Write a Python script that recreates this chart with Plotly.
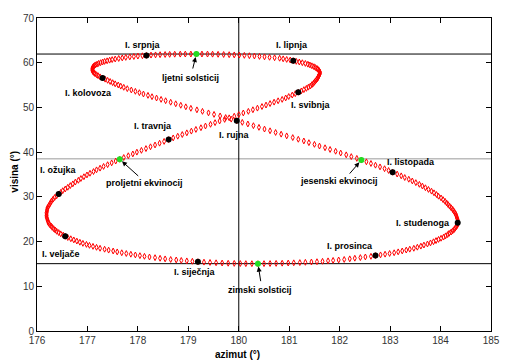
import plotly.graph_objects as go

# noon position of the Sun, one value per day (1 Jan .. 31 Dec)
azimut = [
179.19,179.08,178.97,178.86,178.76, 178.65,178.54,178.44,178.34,178.23,
178.13,178.04,177.95,177.86,177.77, 177.68,177.59,177.51,177.42,177.34,
177.25,177.18,177.11,177.04,176.98, 176.91,176.85,176.79,176.73,176.67,
176.61,176.56,176.52,176.47,176.43, 176.39,176.36,176.33,176.30,176.28,
176.25,176.23,176.22,176.21,176.20, 176.19,176.19,176.19,176.19,176.20,
176.20,176.21,176.23,176.25,176.27, 176.29,176.32,176.35,176.39,176.43,
176.47,176.51,176.56,176.61,176.66, 176.71,176.76,176.82,176.87,176.93,
176.99,177.05,177.12,177.18,177.25, 177.32,177.40,177.48,177.56,177.64,
177.72,177.81,177.90,177.98,178.07, 178.16,178.25,178.34,178.43,178.52,
178.61,178.70,178.79,178.88,178.97, 179.06,179.15,179.25,179.34,179.44,
179.53,179.62,179.72,179.81,179.91, 180.00,180.09,180.19,180.28,180.37,
180.46,180.54,180.62,180.70,180.78, 180.86,180.93,180.99,181.06,181.12,
181.18,181.24,181.29,181.34,181.38, 181.42,181.45,181.48,181.50,181.52,
181.54,181.56,181.57,181.58,181.59, 181.60,181.61,181.61,181.60,181.59,
181.57,181.55,181.52,181.49,181.45, 181.41,181.37,181.32,181.26,181.20,
181.14,181.08,181.02,180.95,180.88, 180.81,180.71,180.61,180.51,180.41,
180.31,180.21,180.11,180.01,179.91, 179.81,179.70,179.59,179.48,179.38,
179.27,179.16,179.05,178.94,178.84, 178.73,178.63,178.54,178.44,178.35,
178.26,178.17,178.09,178.00,177.92, 177.84,177.76,177.69,177.62,177.55,
177.49,177.44,177.39,177.34,177.30, 177.26,177.22,177.19,177.16,177.14,
177.12,177.11,177.10,177.10,177.10, 177.10,177.11,177.13,177.15,177.18,
177.21,177.25,177.30,177.35,177.40, 177.45,177.50,177.55,177.61,177.66,
177.72,177.79,177.87,177.95,178.03, 178.11,178.20,178.28,178.37,178.46,
178.55,178.65,178.75,178.85,178.95, 179.05,179.17,179.28,179.40,179.51,
179.63,179.74,179.85,179.96,180.07, 180.18,180.29,180.40,180.51,180.62,
180.73,180.84,180.95,181.07,181.18, 181.29,181.39,181.50,181.60,181.71,
181.81,181.92,182.02,182.13,182.23, 182.34,182.43,182.53,182.62,182.71,
182.80,182.89,182.97,183.05,183.14, 183.22,183.29,183.37,183.44,183.51,
183.58,183.64,183.70,183.76,183.82, 183.87,183.92,183.96,184.01,184.05,
184.09,184.12,184.15,184.18,184.21, 184.24,184.26,184.28,184.30,184.31,
184.32,184.33,184.34,184.34,184.34, 184.34,184.33,184.31,184.29,184.27,
184.24,184.21,184.17,184.14,184.10, 184.06,184.01,183.96,183.91,183.86,
183.80,183.74,183.67,183.61,183.54, 183.47,183.39,183.32,183.24,183.16,
183.08,182.99,182.90,182.81,182.71, 182.62,182.51,182.41,182.30,182.20,
182.09,181.98,181.87,181.77,181.66, 181.55,181.44,181.32,181.21,181.09,
180.98,180.86,180.74,180.62,180.50, 180.38,180.26,180.14,180.03,179.91,
179.79,179.67,179.55,179.43,179.31,
]

visina = [
15.50,15.59,15.68,15.78,15.89, 16.00,16.13,16.26,16.40,16.55,
16.70,16.85,17.01,17.17,17.33, 17.50,17.69,17.89,18.09,18.29,
18.50,18.71,18.93,19.15,19.37, 19.60,19.85,20.11,20.37,20.63,
20.90,21.17,21.45,21.73,22.01, 22.30,22.59,22.89,23.19,23.49,
23.80,24.13,24.46,24.80,25.15, 25.50,25.84,26.18,26.52,26.86,
27.20,27.57,27.95,28.33,28.71, 29.10,29.48,29.86,30.24,30.62,
31.00,31.38,31.76,32.14,32.52, 32.90,33.30,33.70,34.10,34.50,
34.90,35.28,35.66,36.04,36.42, 36.80,37.20,37.60,38.00,38.40,
38.80,39.20,39.60,40.00,40.40, 40.80,41.20,41.60,42.00,42.40,
42.80,43.18,43.56,43.94,44.32, 44.70,45.08,45.46,45.84,46.22,
46.60,46.96,47.32,47.68,48.04, 48.40,48.76,49.12,49.48,49.84,
50.20,50.53,50.86,51.18,51.49, 51.80,52.12,52.44,52.76,53.08,
53.40,53.69,53.98,54.26,54.53, 54.80,55.09,55.37,55.65,55.93,
56.20,56.45,56.70,56.94,57.17, 57.40,57.63,57.85,58.07,58.29,
58.50,58.71,58.91,59.11,59.31, 59.50,59.67,59.84,60.00,60.15,
60.30,60.45,60.60,60.74,60.87, 61.00,61.11,61.21,61.31,61.41,
61.50,61.57,61.64,61.70,61.75, 61.80,61.84,61.88,61.91,61.93,
61.94,61.94,61.94,61.93,61.92, 61.90,61.87,61.84,61.80,61.75,
61.70,61.63,61.56,61.48,61.39, 61.30,61.19,61.07,60.95,60.83,
60.70,60.57,60.43,60.29,60.15, 60.00,59.84,59.68,59.52,59.36,
59.20,59.00,58.80,58.60,58.40, 58.20,57.98,57.76,57.54,57.32,
57.10,56.84,56.58,56.32,56.06, 55.80,55.54,55.28,55.02,54.76,
54.50,54.20,53.90,53.60,53.30, 53.00,52.70,52.40,52.10,51.80,
51.50,51.16,50.82,50.48,50.14, 49.80,49.46,49.12,48.78,48.44,
48.10,47.74,47.38,47.02,46.66, 46.30,45.92,45.54,45.16,44.78,
44.40,44.02,43.64,43.26,42.88, 42.50,42.12,41.74,41.36,40.98,
40.60,40.20,39.80,39.40,39.00, 38.60,38.22,37.84,37.46,37.08,
36.70,36.30,35.90,35.50,35.10, 34.70,34.32,33.94,33.56,33.18,
32.80,32.42,32.04,31.66,31.28, 30.90,30.52,30.14,29.76,29.38,
29.00,28.64,28.28,27.92,27.56, 27.20,26.86,26.52,26.18,25.84,
25.50,25.18,24.86,24.54,24.22, 23.90,23.60,23.30,23.00,22.70,
22.40,22.12,21.84,21.56,21.28, 21.00,20.74,20.48,20.22,19.96,
19.70,19.46,19.22,18.98,18.74, 18.50,18.30,18.10,17.90,17.70,
17.50,17.34,17.18,17.02,16.86, 16.70,16.56,16.42,16.28,16.14,
16.00,15.89,15.79,15.69,15.59, 15.50,15.43,15.36,15.30,15.25,
15.20,15.16,15.12,15.09,15.07, 15.06,15.06,15.07,15.09,15.12,
15.15,15.20,15.26,15.33,15.40,
]

# first day of each month (day of year) and labels
month_days = [1, 32, 60, 91, 121, 152, 182, 213, 244, 274, 305, 335]
month_labels = ["I. siječnja", "I. veljače", "I. ožujka", "I. travnja",
                "I. svibnja", "I. lipnja", "I. srpnja", "I. kolovoza",
                "I. rujna", "I. listopada", "I. studenoga", "I. prosinca"]

# equinoxes and solstices (day of year) and labels
event_days = [80, 172, 267, 356]
event_labels = ["proljetni ekvinocij", "ljetni solsticij",
                "jesenski ekvinocij", "zimski solsticij"]

# reference lines
ref_altitudes = [61.94, 38.5, 15.06]
ref_altitude_colors = ["#000000", "#999999", "#000000"]
ref_azimuth = 180

x_ticks = [176, 177, 178, 179, 180, 181, 182, 183, 184, 185]
y_ticks = [0, 10, 20, 30, 40, 50, 60, 70]

# label placement (layout only)
month_label_pos = [(179.14, 13.1), (176.48, 17.3), (176.42, 35.9), (178.30, 45.9),
                   (181.44, 50.5), (181.05, 64.0), (178.10, 64.0), (177.03, 53.2),
                   (179.91, 43.9), (183.42, 37.7), (183.65, 24.1), (182.20, 19.1)]
event_label_pos = [(178.14, 33.0), (179.05, 56.5), (181.99, 33.5), (180.42, 9.1)]
event_arrow_tail = [(20, 18), (-4, 16), (-13, 15), (3, 19)]

fig = go.Figure()
fig.add_trace(go.Scatter(
    x=azimut, y=visina, mode="markers",
    marker=dict(symbol="diamond-tall-open", size=4.2, color="#ff0000",
                line=dict(width=1, color="#ff0000")),
    hoverinfo="skip", showlegend=False))

fig.add_trace(go.Scatter(
    x=[azimut[d - 1] for d in month_days], y=[visina[d - 1] for d in month_days],
    mode="markers", marker=dict(symbol="circle", size=6, color="#000000"),
    showlegend=False))

fig.add_trace(go.Scatter(
    x=[azimut[d - 1] for d in event_days], y=[visina[d - 1] for d in event_days],
    mode="markers", marker=dict(symbol="circle", size=6, color="#22dd22"),
    showlegend=False))

shapes = []
for yv, col in zip(ref_altitudes, ref_altitude_colors):
    shapes.append(dict(type="line", xref="paper", x0=0, x1=1, yref="y", y0=yv, y1=yv,
                       line=dict(color=col, width=1), layer="below"))
shapes.append(dict(type="line", xref="x", x0=ref_azimuth, x1=ref_azimuth, yref="paper",
                   y0=0, y1=1, line=dict(color="#000000", width=1), layer="below"))

lab_font = dict(family="Liberation Sans, Arial, sans-serif", size=9, color="#000000")
annotations = []
for txt, (px, py) in zip(month_labels, month_label_pos):
    annotations.append(dict(x=px, y=py, xref="x", yref="y", text="<b>%s</b>" % txt,
                            showarrow=False, font=lab_font))
for i, txt in enumerate(event_labels):
    px, py = event_label_pos[i]
    annotations.append(dict(x=px, y=py, xref="x", yref="y", text="<b>%s</b>" % txt,
                            showarrow=False, font=lab_font))
    d = event_days[i]
    tx, ty = event_arrow_tail[i]
    annotations.append(dict(x=azimut[d - 1], y=visina[d - 1], xref="x", yref="y", text="",
                            showarrow=True, ax=tx, ay=ty, arrowhead=2, arrowsize=1,
                            arrowwidth=1, arrowcolor="#000000", standoff=3))

title_font = dict(family="Liberation Sans, Arial, sans-serif", size=10, color="#000000")
annotations.append(dict(xref="paper", yref="paper", x=0.441, y=-0.076, text="<b>azimut (°)</b>",
                        showarrow=False, font=title_font, xanchor="center", yanchor="middle"))
annotations.append(dict(xref="paper", yref="paper", x=-0.05, y=0.51, text="<b>visina (°)</b>",
                        showarrow=False, font=title_font, textangle=-90,
                        xanchor="center", yanchor="middle"))

tick_font = dict(family="Liberation Sans, Arial, sans-serif", size=10, color="#333333")
fig.update_layout(
    width=512, height=364,
    margin=dict(l=37, r=15, t=15, b=33),
    paper_bgcolor="#ffffff", plot_bgcolor="#ffffff",
    shapes=shapes, annotations=annotations,
    xaxis=dict(range=[176, 185], tickvals=x_ticks, ticks="inside", ticklen=5,
               tickcolor="#000000", showline=True, linecolor="#000000", linewidth=1,
               mirror="ticks", showgrid=False, zeroline=False, tickfont=tick_font),
    yaxis=dict(range=[0, 70], tickvals=y_ticks, ticks="inside", ticklen=5,
               tickcolor="#000000", showline=True, linecolor="#000000", linewidth=1,
               mirror="ticks", showgrid=False, zeroline=False, tickfont=tick_font),
)

fig.write_html("out.html", config={"displayModeBar": False},
               post_script=["document.body.style.margin='0px';"])
